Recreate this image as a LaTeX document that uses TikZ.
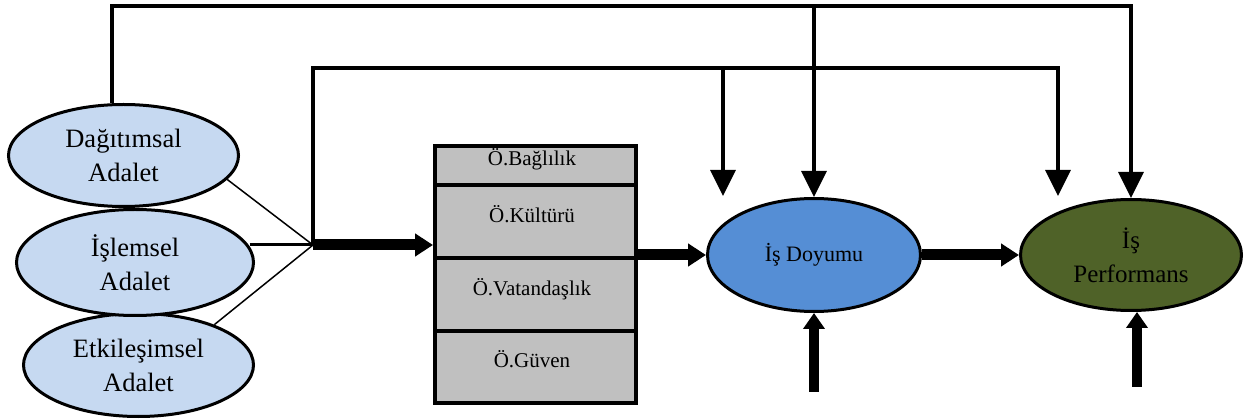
\documentclass[tikz,border=0pt]{standalone}
\usepackage{fontspec}
\setmainfont{Liberation Serif}
\usetikzlibrary{arrows.meta,shapes.geometric}
\definecolor{adaletblue}{HTML}{C6D9F1}
\definecolor{doyumblue}{HTML}{558ED5}
\definecolor{perfgreen}{HTML}{4F6228}
\definecolor{cellgray}{HTML}{C0C0C0}
\tikzset{
  adalet/.style={ellipse, draw, line width=3pt, fill=adaletblue, align=center, inner sep=0pt,
    font=\fontsize{26.5}{34}\selectfont},
  cell/.style={rectangle, draw, line width=4pt, fill=cellgray, minimum width=201pt, inner sep=0pt},
  celltext/.style={anchor=base, font=\fontsize{21}{25}\selectfont},
  thinarrow/.style={line width=3.5pt, -{Triangle[width=25pt,length=26pt]}},
  fatarrow/.style={line width=11pt, -{Triangle[width=22pt,length=18pt]}},
  uparrow/.style={line width=10pt, -{Triangle[width=21pt,length=16pt]}},
}

\begin{document}
\begin{tikzpicture}[x=1pt, y=-1pt]
 \useasboundingbox (0,0) rectangle (1245,419);

 \node[adalet, minimum width=230pt, minimum height=103pt] (etk) at (138.5,365)  {Etkileşimsel\\Adalet};
 \node[adalet, minimum width=230pt, minimum height=102pt] (dag) at (123.5,155.5) {Dağıtımsal\\Adalet};
 \node[adalet, minimum width=237pt, minimum height=106pt] (isl) at (135,262.5)  {İşlemsel\\Adalet};

 \node[cell, minimum height=39pt] (bag) at (535.5,165.5) {};
 \node[cell, minimum height=73pt] (kul) at (535.5,221.5) {};
 \node[cell, minimum height=73pt] (vat) at (535.5,294.5) {};
 \node[cell, minimum height=72pt] (guv) at (535.5,367)   {};
 \node[celltext] (bagt) at (532,166) {Ö.Bağlılık};
 \node[celltext] (kult) at (532,223) {Ö.Kültürü};
 \node[celltext] (vatt) at (532,296) {Ö.Vatandaşlık};
 \node[celltext] (guvt) at (532,368) {Ö.Güven};

 \node[ellipse, draw, line width=3pt, fill=doyumblue, inner sep=0pt, minimum width=213pt, minimum height=113pt,
   font=\fontsize{22}{26}\selectfont] (doy) at (814,255) {İş Doyumu};
 \node[ellipse, draw, line width=3pt, fill=perfgreen, inner sep=0pt, minimum width=221pt, minimum height=111pt,
   align=center, font=\fontsize{25}{34}\selectfont] (perf) at (1131,255) {İş\\Performans};

 \coordinate (j)  at (313,245);
 \coordinate (t1) at (112,6);
 \coordinate (t2) at (1131,6);
 \coordinate (m1) at (313,68);
 \coordinate (m2) at (1058,68);
 \coordinate (a1) at (723,196);
 \coordinate (a2) at (1058,196);
 \coordinate (b1) at (814,392);
 \coordinate (b2) at (1137,387);

 \draw[thinarrow] (dag.north -| t1) -- (t1) -- (t2) -- (perf.north);
 \draw[thinarrow] (doy.north |- t1) -- (doy.north);
 \draw[thinarrow] (j) -- (m1) -- (m2) -- (a2);
 \draw[thinarrow] (a1 |- m1) -- (a1);

 \draw[line width=1.5pt] (dag.-13) -- (j);
 \draw[line width=1.5pt] (etk.28) -- (j);
 \draw[line width=3pt] (j -| isl.8.8) -- (j);

 \draw[fatarrow] (j) -- (j -| kul.west);
 \draw[fatarrow] (kul.east |- doy.west) -- (doy.west);
 \draw[fatarrow] (doy.east) -- (perf.west);
 \draw[uparrow] (b1) -- (doy.south);
 \draw[uparrow] (b2) -- (b2 |- perf.south);
\end{tikzpicture}
\end{document}
